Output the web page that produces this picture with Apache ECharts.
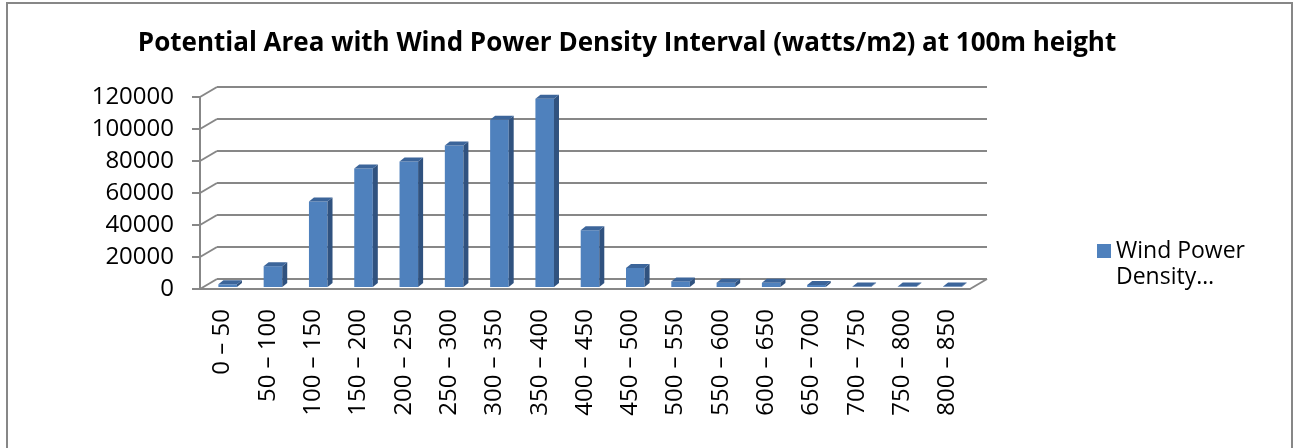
<!DOCTYPE html>
<html>
<head>
<meta charset="utf-8">
<script src="https://cdn.jsdelivr.net/npm/echarts@6/dist/echarts.min.js"></script>
<style>
html, body { margin: 0; padding: 0; background: #fff; }
#chart { width: 1294px; height: 448px; }
</style>
</head>
<body>
<div id="chart"></div>
<script>
// categories (watts/m2 intervals)
var categories = ['0 – 50', '50 – 100', '100 – 150', '150 – 200', '200 – 250', '250 – 300',
	'300 – 350', '350 – 400', '400 – 450', '450 – 500', '500 – 550', '550 – 600',
	'600 – 650', '650 – 700', '700 – 750', '750 – 800', '800 – 850'];
// potential area per interval
var areaValues = [1700, 13000, 53400, 74000, 78400, 88500, 104500, 117700, 35400,
	11900, 3500, 2700, 2600, 1300, 250, 250, 250];
// y axis ticks
var yTicks = [0, 20000, 40000, 60000, 80000, 100000, 120000];

var FRONT = '#4F81BD', SIDE = '#30527F', TOPC = '#3C659A';
var WALL = '#878787';
var FONT = 'Open Sans';

var myChart = echarts.init(document.getElementById('chart'));

//back wall + floor lines (pseudo 3d)
function renderWall(params, api) {
	var cs = params.coordSys;
	var v = api.value(1);
	var y = api.coord([0, v])[1];
	var x0 = cs.x, x1 = cs.x + cs.width;
	var dx = 17, dy = 10;
	var st = { stroke: WALL, lineWidth: 2 };
	var kids = [
		{ type: 'line', shape: { x1: x0, y1: y, x2: x0 + dx, y2: y - dy }, style: st },
		{ type: 'line', shape: { x1: x0 + dx, y1: y - dy, x2: x1 + dx, y2: y - dy }, style: st }
	];
	if (v === 0) {
		kids.push({ type: 'line', shape: { x1: x1, y1: y, x2: x1 + dx, y2: y - dy }, style: st });
	}
	return { type: 'group', children: kids };
}

//3d column
function renderBar(params, api) {
	var idx = api.value(0), v = api.value(1);
	var base = api.coord([idx, 0]);
	var top = api.coord([idx, v]);
	var w = api.size([1, 0])[0] * 0.41;
	var x = base[0] - w / 2 + 5;
	var yb = base[1] - 2, yt = top[1] - 2;
	var d = 5, e = 4;
	return {
		type: 'group',
		children: [
			{ type: 'rect', shape: { x: x, y: yt, width: w, height: yb - yt }, style: { fill: FRONT } },
			{ type: 'polygon', shape: { points: [[x + w, yt], [x + w + d, yt - e], [x + w + d, yb - e], [x + w, yb]] }, style: { fill: SIDE } },
			{ type: 'polygon', shape: { points: [[x, yt], [x + d, yt - e], [x + w + d, yt - e], [x + w, yt]] }, style: { fill: TOPC } }
		]
	};
}

myChart.setOption({
	animation: false,
	textStyle: { fontFamily: FONT },
	title: {
		text: 'Potential Area with Wind Power Density Interval (watts/m2) at 100m height',
		left: 622,
		textAlign: 'center',
		top: 26,
		textStyle: { fontFamily: FONT, fontSize: 26, fontWeight: 'bold', color: '#000' }
	},
	graphic: [{
		type: 'rect',
		shape: { x: 7, y: 3, width: 1285, height: 470 },
		style: { fill: 'none', stroke: WALL, lineWidth: 2 },
		silent: true
	}],
	legend: {
		data: ['Wind Power Density'],
		left: 1092,
		top: 207,
		icon: 'rect',
		itemWidth: 14,
		itemHeight: 14,
		formatter: function () { return '\nWind Power\nDensity…'; },
		textStyle: { fontFamily: FONT, fontSize: 23, color: '#000', lineHeight: 26 }
	},
	grid: { left: 200, top: 97, width: 770, height: 192 },
	xAxis: {
		type: 'category',
		data: categories,
		boundaryGap: true,
		axisLine: { lineStyle: { color: WALL, width: 2 } },
		axisTick: { interval: 0, length: 7, lineStyle: { color: WALL, width: 2 } },
		axisLabel: { interval: 0, rotate: 90, margin: 20, fontSize: 24, color: '#000', fontFamily: FONT },
		splitLine: { show: false }
	},
	yAxis: {
		type: 'value',
		min: 0,
		max: 120000,
		interval: 20000,
		axisLine: { show: true, lineStyle: { color: WALL, width: 2 } },
		axisTick: { show: true, length: 8, lineStyle: { color: WALL, width: 2 } },
		axisLabel: { margin: 26, fontSize: 24, color: '#000', fontFamily: FONT, formatter: function (v) { return String(v); } },
		splitLine: { show: false }
	},
	series: [{
		name: 'wall',
		type: 'custom',
		renderItem: renderWall,
		data: yTicks.map(function (v) { return [0, v]; }),
		silent: true,
		z: 1
	}, {
		name: 'Wind Power Density',
		type: 'custom',
		renderItem: renderBar,
		itemStyle: { color: FRONT },
		data: areaValues.map(function (v, i) { return [i, v]; }),
		z: 3
	}]
});
</script>
</body>
</html>
